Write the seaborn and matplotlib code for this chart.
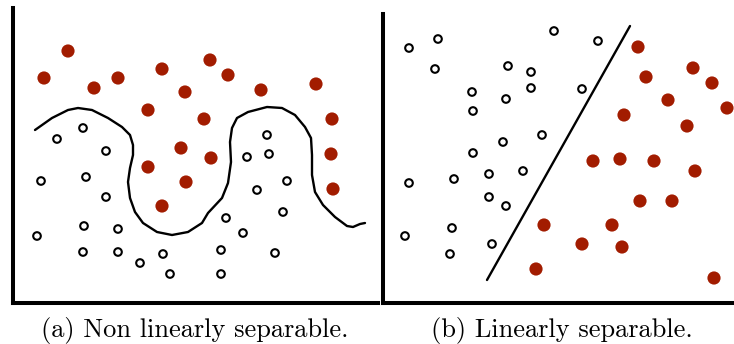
import seaborn as sns
import matplotlib.pyplot as plt
import pandas as pd

# --- DATA (positions, en pixels) ---
# panneau (a)
a_red_x = [44, 68, 94, 118, 148, 162, 185, 210, 228, 204, 261, 316, 332, 331, 333, 181, 211, 148, 186, 162]
a_red_y = [78, 51, 88, 78, 110, 69, 92, 60, 75, 119, 90, 84, 119, 154, 189, 148, 158, 167, 182, 206]
a_open_x = [57, 83, 106, 267, 269, 247, 41, 86, 106, 37, 84, 118, 83, 118, 140, 163, 170, 287, 257, 283, 226, 243, 221, 275, 221]
a_open_y = [139, 128, 151, 135, 154, 157, 181, 177, 197, 236, 226, 229, 252, 252, 263, 254, 274, 181, 190, 212, 218, 233, 250, 253, 274]
a_curve_x = [35, 52, 68, 78, 92, 108, 122, 130, 133, 133, 130, 128, 130, 135, 143, 157, 172, 188, 202,
             208, 222, 228, 231, 230, 232, 237, 248, 267, 282, 295, 305, 311, 312, 312, 315, 323, 335, 347, 353, 360, 365]
a_curve_y = [130, 118, 110, 108, 110, 118, 127, 135, 145, 155, 168, 182, 198, 212, 223, 232, 235, 232, 223,
             213, 198, 183, 162, 142, 128, 118, 112, 107, 108, 115, 127, 138, 155, 175, 192, 205, 217, 226, 227, 224, 223]

# panneau (b)
b_red_x = [638, 646, 693, 712, 668, 727, 624, 687, 593, 620, 654, 695, 640, 672, 612, 582, 622, 714, 544, 536]
b_red_y = [47, 77, 68, 83, 100, 108, 115, 126, 161, 159, 161, 171, 201, 201, 225, 244, 247, 278, 225, 269]
b_open_x = [409, 438, 435, 554, 598, 508, 531, 531, 472, 506, 473, 542, 503, 582, 473, 409, 454, 489, 523, 489, 506, 452, 405, 492, 450]
b_open_y = [48, 39, 69, 31, 41, 66, 72, 88, 92, 99, 111, 135, 142, 89, 153, 183, 179, 174, 171, 197, 206, 228, 236, 244, 254]
b_line_x = [630, 487]
b_line_y = [26, 280]

captions = ["(a) Non linearly separable.", "(b) Linearly separable."]

RED = '#A21C00'

# ==============================================================================
sns.set_theme(style="white")
plt.rcParams['font.family'] = ['cmr10', 'DejaVu Serif']
plt.rcParams['axes.formatter.use_mathtext'] = True

W, H = 734, 344
fig = plt.figure(figsize=(W / 100, H / 100), dpi=100)


def add_panel(x0, x1, y0, y1):
    ax = fig.add_axes([x0 / W, 1 - y1 / H, (x1 - x0) / W, (y1 - y0) / H])
    ax.set_xlim(x0, x1)
    ax.set_ylim(y1, y0)
    for s in ['top', 'right']:
        ax.spines[s].set_visible(False)
    for s in ['left', 'bottom']:
        ax.spines[s].set_color('black')
        ax.spines[s].set_linewidth(2.9)
    ax.set_xticks([])
    ax.set_yticks([])
    ax.patch.set_alpha(0)
    return ax


def draw_points(ax, rx, ry, ox, oy):
    sns.scatterplot(x=rx, y=ry, ax=ax, color=RED, s=90, edgecolor='none', legend=False, clip_on=False)
    sns.scatterplot(x=ox, y=oy, ax=ax, facecolor='none', edgecolor='black', s=30, linewidth=1.5,
                    legend=False, clip_on=False)
    ax.set_xlabel('')
    ax.set_ylabel('')


# --- (a) ---
ax1 = add_panel(13, 378, 8, 303)
df_curve = pd.DataFrame({'x': a_curve_x, 'y': a_curve_y})
sns.lineplot(data=df_curve, x='x', y='y', ax=ax1, sort=False, estimator=None, color='black', linewidth=1.7)
for l in ax1.lines:
    l.set_solid_joinstyle('round')
    l.set_solid_capstyle('round')
draw_points(ax1, a_red_x, a_red_y, a_open_x, a_open_y)

# --- (b) ---
ax2 = add_panel(383, 740, 14, 303)
sns.lineplot(x=b_line_x, y=b_line_y, ax=ax2, sort=False, estimator=None, color='black', linewidth=1.7)
draw_points(ax2, b_red_x, b_red_y, b_open_x, b_open_y)

fig.text(195 / W, 1 - 330 / H, captions[0], ha='center', va='center', fontsize=19, color='black')
fig.text(562 / W, 1 - 330 / H, captions[1], ha='center', va='center', fontsize=19, color='black')

plt.savefig("out.png", dpi=100)
plt.close()
